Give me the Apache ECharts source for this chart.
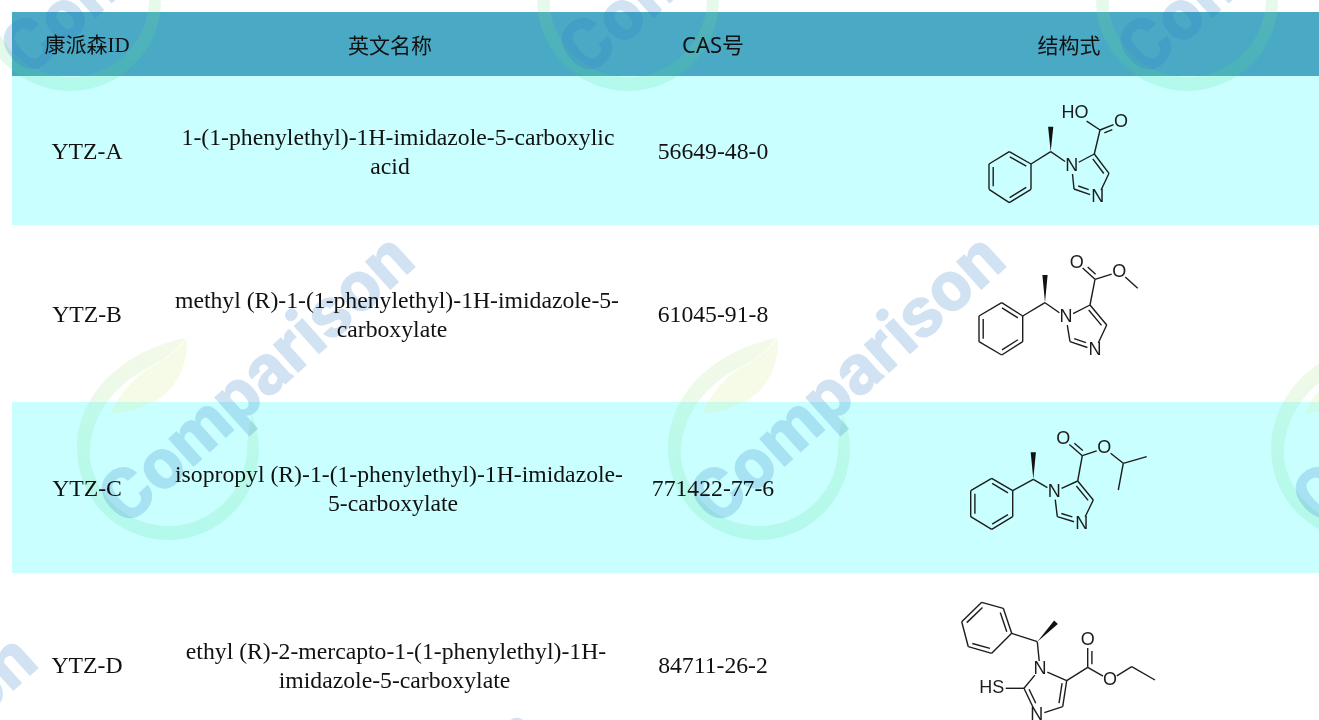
<!DOCTYPE html>
<html>
<head>
<meta charset="utf-8">
<title>康派森</title>
<style>
  html, body { margin: 0; padding: 0; background: #fff; }
  #main { width: 1319px; height: 720px; }
</style>
<script src="https://cdn.jsdelivr.net/npm/echarts@6/dist/echarts.min.js"></script>
</head>
<body>
<div id="main"></div>
<script>
// table content
const headers = ['康派森ID', '英文名称', 'CAS号', '结构式'];
const ids = ['YTZ-A', 'YTZ-B', 'YTZ-C', 'YTZ-D'];
const names = [
  ['1-(1-phenylethyl)-1H-imidazole-5-carboxylic', 'acid'],
  ['methyl (R)-1-(1-phenylethyl)-1H-imidazole-5-', 'carboxylate'],
  ['isopropyl (R)-1-(1-phenylethyl)-1H-imidazole-', '5-carboxylate'],
  ['ethyl (R)-2-mercapto-1-(1-phenylethyl)-1H-', 'imidazole-5-carboxylate']
];
const casNumbers = ['56649-48-0', '61045-91-8', '771422-77-6', '84711-26-2'];

// table layout on the page axes
const rowEdges = [12, 76, 225, 402, 573, 720];
const rowCenters = [153, 316, 490, 667];
const headerY = 45;
const columnCenters = [87, 390, 713, 1069];
const firstLineShift = [8, 7, 9, 6];
const secondLineShift = [0, 2, 3, 4.5];
const rowColors = ['#4aa9c4', '#c9ffff', '#ffffff', '#c9ffff', '#ffffff'];

// watermark logo centres
const logoXs = [70, 628, 1187, 168, 759, 1362, -209, 296, 913];
const logoYs = [0, 0, 0, 449, 449, 449, 850, 924, 927];

// structures: atoms [x, y, label], bonds [from, to, order, side], wedge [from, to]
const molecules = [
  {
    atoms: [[1009.3,151.7],[1031,164],[1031,189.3],[1009.3,202.7],[989,189.3],[989,164],
      [1050.7,151.7],[1050.7,126.7],[1071.7,166,'N'],[1094.3,154],[1109,173.3],[1097.7,197.3,'N'],[1074,189],
      [1100,130],[1121,121.7,'O'],[1075,113.3,'HO']],
    bonds: [[0,1,2,1],[1,2,1],[2,3,2,1],[3,4,1],[4,5,2,1],[5,0,1],[1,6,1],[6,8,1],[8,9,1],[9,10,2,1],[10,11,1],[11,12,2,1],[12,8,1],
      [9,13,1],[13,14,2,1],[13,15,1]],
    wedge: [6, 7]
  },
  {
    atoms: [[1001.7,302.7],[1022.7,316],[1022.7,341.7],[1001.7,355],[979,341.7],[979,316],
      [1045,302.7],[1045,275],[1066,317.3,'N'],[1090,305],[1106.7,325],[1095,350,'N'],[1070,341.7],
      [1095,279.3],[1076.7,262.7,'O'],[1119.3,271.7,'O'],[1137.7,288.3]],
    bonds: [[0,1,2,1],[1,2,1],[2,3,2,1],[3,4,1],[4,5,2,1],[5,0,1],[1,6,1],[6,8,1],[8,9,1],[9,10,2,1],[10,11,1],[11,12,2,1],[12,8,1],
      [9,13,1],[13,14,2,1],[13,15,1],[15,16,1]],
    wedge: [6, 7]
  },
  {
    atoms: [[991.7,478.3],[1012.7,490.7],[1012.7,516.7],[991.7,529.3],[970.7,516.7],[970.7,490.7],
      [1033.3,479.3],[1033.3,452.3],[1054.3,491.7,'N'],[1077.7,481],[1093.3,500],[1081.7,524,'N'],[1057.3,516.7],
      [1082.3,455.7],[1063.3,439.3,'O'],[1104.3,448.3,'O'],[1123.3,463.3],[1146.7,456.7],[1118.3,490]],
    bonds: [[0,1,2,1],[1,2,1],[2,3,2,1],[3,4,1],[4,5,2,1],[5,0,1],[1,6,1],[6,8,1],[8,9,1],[9,10,2,1],[10,11,1],[11,12,2,1],[12,8,1],
      [9,13,1],[13,14,2,1],[13,15,1],[15,16,1],[16,17,1],[16,18,1]],
    wedge: [6, 7]
  },
  {
    atoms: [[981.7,602.3],[1003.3,608.3],[1011.7,633.3],[991.7,653.3],[968.3,646.7],[961.7,621.7],
      [1037.3,641.7],[1056,622.3],[1040,669,'N'],[1066.7,680.7],[1062.7,706.7],[1036.7,715,'N'],[1024,688.3],
      [1087.7,667.3],[1087.7,640,'O'],[1110,680,'O'],[1131.7,666.7],[1155,680],[991.7,688.3,'HS']],
    bonds: [[0,1,1],[1,2,2,1],[2,3,1],[3,4,2,1],[4,5,1],[5,0,2,1],[2,6,1],[6,8,1],[8,9,1],[9,10,2,1],[10,11,1],[11,12,2,1],[12,8,1],
      [9,13,1],[13,14,2,1],[13,15,1],[15,16,1],[16,17,1],[12,18,1]],
    wedge: [6, 7]
  }
];

// cells of the table, built from the arrays above
const cells = [];
headers.forEach(function (h, c) {
  cells.push({ x: columnCenters[c], y: c < 1 || c === 2 ? headerY + 1.5 : headerY, kind: 'head', text: h });
});
ids.forEach(function (id, r) {
  cells.push({ x: columnCenters[0], y: rowCenters[r], kind: 'body', text: id });
  cells.push({ x: columnCenters[1] + firstLineShift[r], y: rowCenters[r] - 14, kind: 'body', text: names[r][0] });
  cells.push({ x: columnCenters[1] + secondLineShift[r], y: rowCenters[r] + 15, kind: 'body', text: names[r][1] });
  cells.push({ x: columnCenters[2], y: rowCenters[r], kind: 'body', text: casNumbers[r] });
});

const bondItems = [];
const wedgeItems = [];
const labelItems = [];
molecules.forEach(function (m) {
  m.bonds.forEach(function (b) {
    bondItems.push({ a: m.atoms[b[0]], b: m.atoms[b[1]], order: b[2], side: b[3] || 0 });
  });
  wedgeItems.push({ a: m.atoms[m.wedge[0]], b: m.atoms[m.wedge[1]] });
  m.atoms.forEach(function (a) {
    if (a[2]) labelItems.push(a);
  });
});

const indexData = function (list) {
  return list.map(function (_, i) { return [i]; });
};

const ringPath = 'M17,-111 C-45,-98 -91,-55 -91,0 A91,91 0 0 0 91,0 C91,-12 88,-24 84,-34 C81,-20 79,-10 79,2 ' +
  'A79,79 0 0 1 -78,10 C-80,-25 -60,-62 -18,-82 C0,-92 10,-100 17,-111 Z';
const leafPath = 'M17,-111 C20,-90 10,-65 -8,-52 C-25,-40 -45,-36 -58,-36 C-50,-55 -35,-72 -18,-82 C0,-92 10,-100 17,-111 Z';

function bondEnd(p, q) {
  // stop a bond short of a printed atom label
  const dx = q[0] - p[0], dy = q[1] - p[1];
  const len = Math.sqrt(dx * dx + dy * dy);
  const t1 = p[2] ? (p[2].length > 1 ? 14 : 8) / len : 0;
  const t2 = q[2] ? (q[2].length > 1 ? 14 : 8) / len : 0;
  return [[p[0] + dx * t1, p[1] + dy * t1], [q[0] - dx * t2, q[1] - dy * t2], len, dx / len, dy / len];
}

const lineStyle = { stroke: '#1c1c1c', lineWidth: 1.4, fill: null };

const chart = echarts.init(document.getElementById('main'), null, { renderer: 'canvas' });
chart.setOption({
  animation: false,
  backgroundColor: '#ffffff',
  grid: { left: 0, right: 0, top: 0, bottom: 0 },
  xAxis: { type: 'value', min: 0, max: 1319, show: false },
  yAxis: { type: 'value', min: 0, max: 720, inverse: true, show: false },
  series: [
    {
      // row bands
      type: 'custom',
      silent: true,
      z: 1,
      data: indexData(rowColors),
      renderItem: function (params, api) {
        const i = api.value(0);
        const p1 = api.coord([12, rowEdges[i]]);
        const p2 = api.coord([1319, rowEdges[i + 1]]);
        return {
          type: 'rect',
          shape: { x: p1[0], y: p1[1], width: p2[0] - p1[0], height: p2[1] - p1[1] },
          style: { fill: rowColors[i] }
        };
      }
    },
    {
      // watermark
      type: 'custom',
      silent: true,
      z: 2,
      data: indexData(logoXs),
      renderItem: function (params, api) {
        const i = api.value(0);
        const c = api.coord([logoXs[i], logoYs[i]]);
        const ringFill = new echarts.graphic.LinearGradient(0, 0, 0, 1, [
          { offset: 0, color: 'rgba(200,230,150,0.22)' },
          { offset: 1, color: 'rgba(70,220,140,0.17)' }
        ]);
        return {
          type: 'group',
          x: c[0],
          y: c[1],
          children: [
            {
              type: 'path',
              shape: { pathData: ringPath, layout: 'center', x: -91, y: -111, width: 182, height: 202 },
              style: { fill: ringFill }
            },
            {
              type: 'path',
              shape: { pathData: leafPath, layout: 'center', x: -58, y: -111, width: 78, height: 75 },
              style: { fill: 'rgba(215,235,150,0.22)' }
            },
            {
              type: 'text',
              x: 92,
              y: -66,
              rotation: 42 * Math.PI / 180,
              style: {
                text: 'Comparison',
                fontFamily: 'Roboto',
                fontWeight: 900,
                fontSize: 72,
                fill: 'rgba(45,125,200,0.22)',
                align: 'center',
                verticalAlign: 'middle'
              }
            }
          ]
        };
      }
    },
    {
      // table text
      type: 'custom',
      silent: true,
      z: 3,
      data: indexData(cells),
      renderItem: function (params, api) {
        const cell = cells[api.value(0)];
        const p = api.coord([cell.x, cell.y]);
        const isId = cell.text.indexOf('ID') > 0;
        const isCas = cell.text.indexOf('CAS') === 0;
        return {
          type: 'text',
          x: p[0],
          y: p[1],
          style: {
            text: cell.text,
            fontFamily: isId ? '"Liberation Serif", "Noto Sans CJK SC"'
              : (isCas ? '"Noto Sans", "Noto Sans CJK SC"'
                : (cell.kind === 'head' ? '"Noto Sans CJK SC"' : '"Liberation Serif"')),
            fontSize: cell.kind === 'head' ? (isCas ? 22 : 21) : 23.7,
            fill: '#111',
            align: 'center',
            verticalAlign: 'middle'
          }
        };
      }
    },
    {
      // structure bonds
      type: 'custom',
      silent: true,
      z: 4,
      data: indexData(bondItems),
      renderItem: function (params, api) {
        const item = bondItems[api.value(0)];
        const e = bondEnd(item.a, item.b);
        const p1 = api.coord(e[0]);
        const p2 = api.coord(e[1]);
        const children = [{
          type: 'line',
          shape: { x1: p1[0], y1: p1[1], x2: p2[0], y2: p2[1] },
          style: lineStyle
        }];
        if (item.order === 2) {
          const ox = -e[4] * 4.2 * item.side, oy = e[3] * 4.2 * item.side;
          const sx = e[3] * 3, sy = e[4] * 3;
          children.push({
            type: 'line',
            shape: { x1: p1[0] + ox + sx, y1: p1[1] + oy + sy, x2: p2[0] + ox - sx, y2: p2[1] + oy - sy },
            style: lineStyle
          });
        }
        return { type: 'group', children: children };
      }
    },
    {
      // wedge bonds
      type: 'custom',
      silent: true,
      z: 4,
      data: indexData(wedgeItems),
      renderItem: function (params, api) {
        const item = wedgeItems[api.value(0)];
        const p1 = api.coord(item.a);
        const p2 = api.coord(item.b);
        const dx = p2[0] - p1[0], dy = p2[1] - p1[1];
        const len = Math.sqrt(dx * dx + dy * dy);
        const nx = -dy / len * 2.6, ny = dx / len * 2.6;
        return {
          type: 'polygon',
          shape: { points: [p1, [p2[0] + nx, p2[1] + ny], [p2[0] - nx, p2[1] - ny]] },
          style: { fill: '#111' }
        };
      }
    },
    {
      // atom labels
      type: 'custom',
      silent: true,
      z: 5,
      data: indexData(labelItems),
      renderItem: function (params, api) {
        const a = labelItems[api.value(0)];
        const p = api.coord(a);
        return {
          type: 'text',
          x: p[0],
          y: p[1],
          style: {
            text: a[2],
            fontFamily: 'Liberation Sans',
            fontSize: 18,
            fill: '#1c1c1c',
            align: 'center',
            verticalAlign: 'middle'
          }
        };
      }
    }
  ]
});
</script>
</body>
</html>
